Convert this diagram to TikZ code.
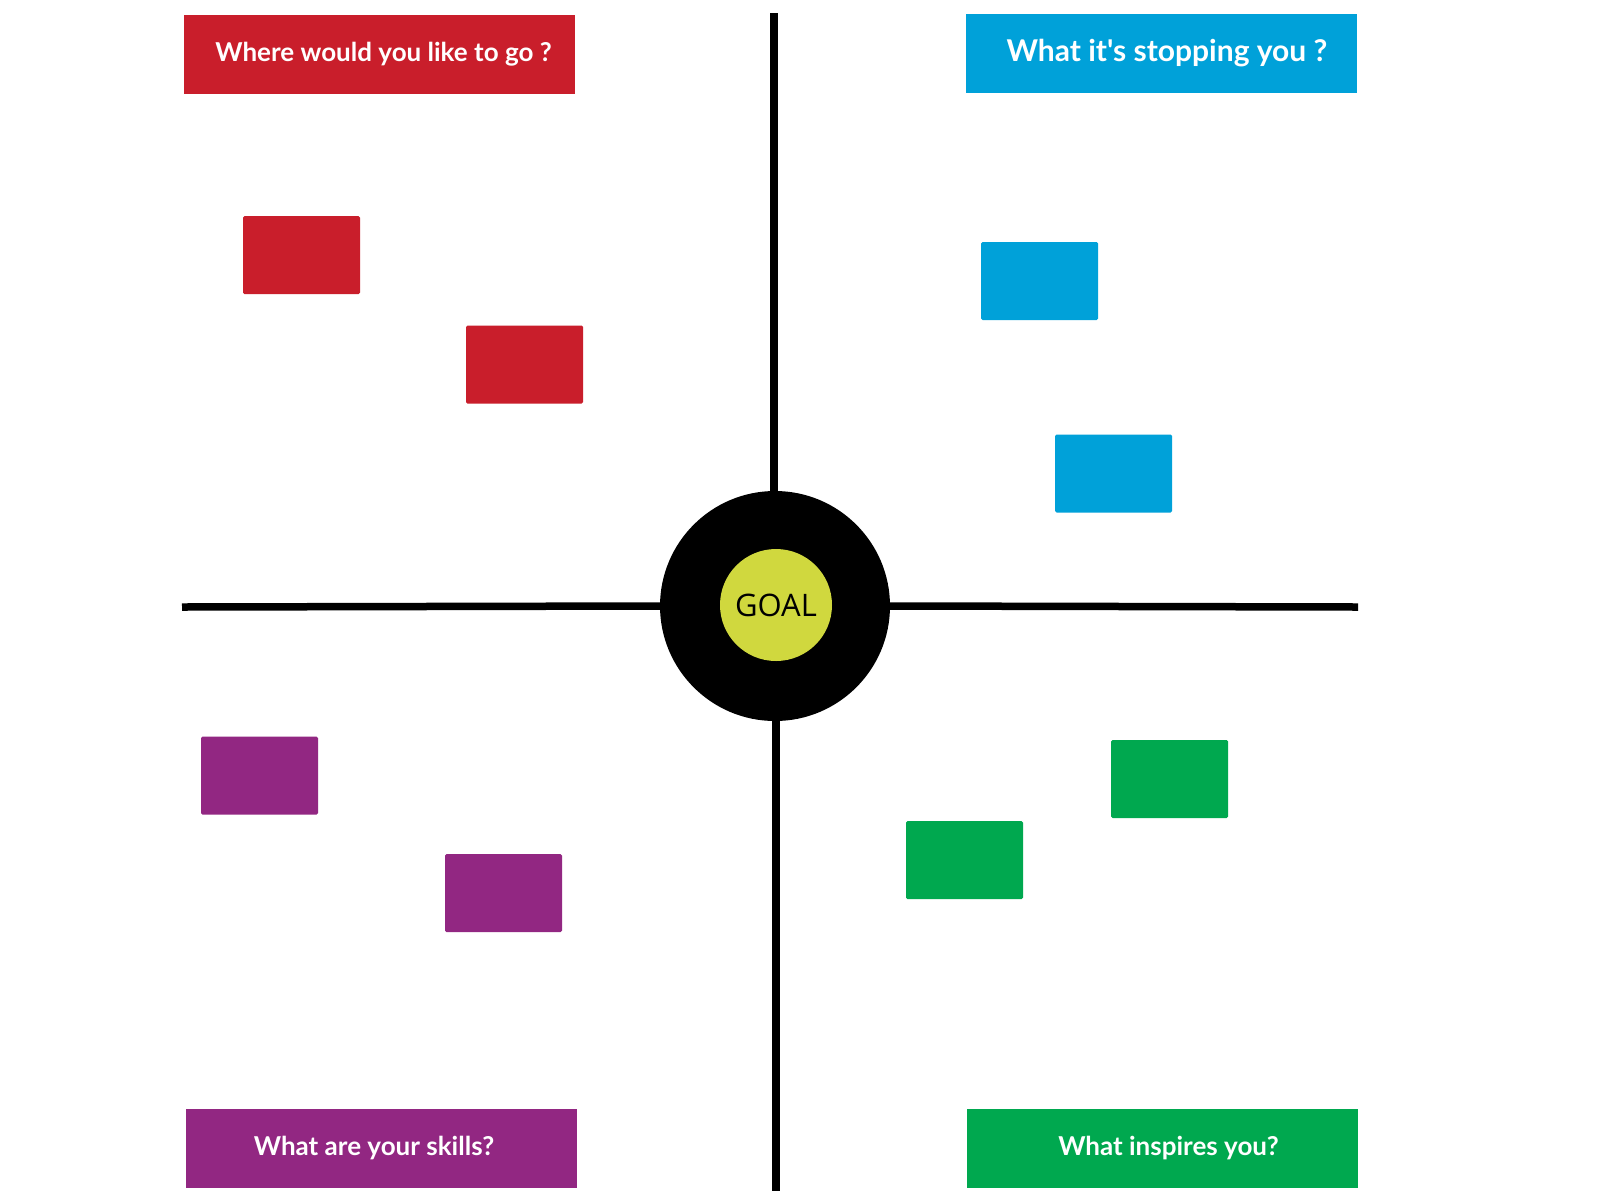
\documentclass[tikz,border=0pt]{standalone}
\usepackage{fontspec}
\setmainfont{Open Sans}
\newfontfamily\headfont{Lato}
\definecolor{qred}{RGB}{201,30,43}
\definecolor{qblue}{RGB}{0,161,217}
\definecolor{qpurple}{RGB}{146,39,130}
\definecolor{qgreen}{RGB}{0,168,79}
\definecolor{qyellow}{RGB}{208,216,62}
\begin{document}
\begin{tikzpicture}[x=1pt,y=-1pt,
  header/.style={rectangle, fill=#1, text=white, minimum width=391pt, minimum height=79pt, inner sep=0pt, font=\headfont\bfseries\fontsize{26}{30}\selectfont},
  note/.style={rectangle, fill=#1, rounded corners=1.5pt, minimum width=117pt, minimum height=78pt, inner sep=0pt},
  axis/.style={line width=7.5pt, black}]
\useasboundingbox (0,0) rectangle (1600,1200);
\fill[white] (0,0) rectangle (1600,1200);
% axes
\coordinate (vtop) at (774,13);
\coordinate (vbot) at (776,1191);
\coordinate (hleft) at (182,607);
\coordinate (hright) at (1358,607);
\node[circle, fill=black, minimum size=230pt, inner sep=0pt] (ring) at (775,606) {};
\draw[axis] (vtop) -- (ring.north -| vtop);
\draw[axis] (ring.south -| vbot) -- (vbot);
\draw[axis] (hleft) -- (ring.west);
\draw[axis] (ring.east) -- (hright);
\node[circle, fill=qyellow, minimum size=112pt, inner sep=0pt, font=\fontsize{31}{36}\selectfont] (goal) at (776,605) {GOAL};
% headers
\node[header=qred] (h1) at (379.5,54.5) {\hspace*{8pt}Where would you like to go ?};
\node[header=qblue, font=\headfont\bfseries\fontsize{30}{34}\selectfont] (h2) at (1161,53.5) {\hspace*{12pt}What it's stopping you ?};
\node[header=qpurple] (h3) at (381,1148) {What are your skills?\hspace*{14pt}};
\node[header=qgreen] (h4) at (1162.5,1148) {\hspace*{12pt}What inspires you?};
% notes
\node[note=qred] (r1) at (301.5,255) {};
\node[note=qred] (r2) at (524.5,364.5) {};
\node[note=qblue] (b1) at (1039.5,281) {};
\node[note=qblue] (b2) at (1113.5,473.5) {};
\node[note=qpurple] (p1) at (259.5,775.5) {};
\node[note=qpurple] (p2) at (503.5,893) {};
\node[note=qgreen] (g1) at (1169.5,779) {};
\node[note=qgreen] (g2) at (964.5,860) {};
\end{tikzpicture}
\end{document}
